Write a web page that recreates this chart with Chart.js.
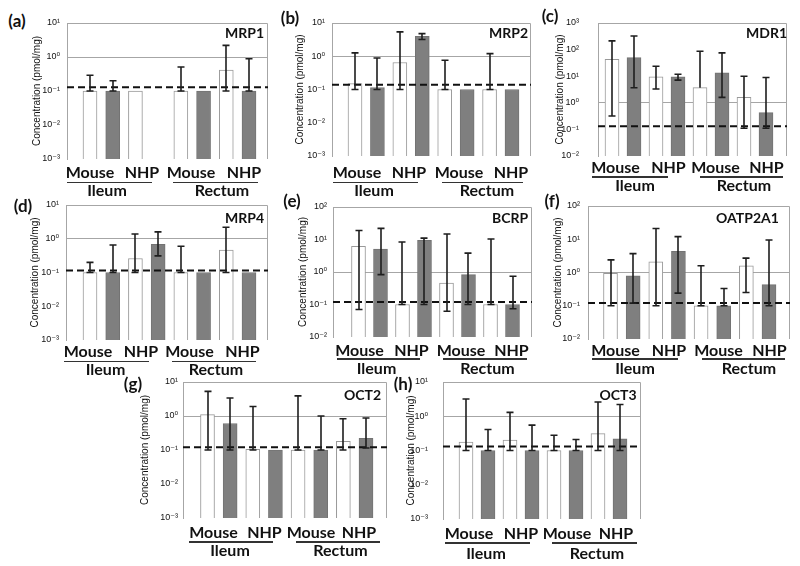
<!DOCTYPE html>
<html>
<head>
<meta charset="utf-8">
<script src="https://cdn.jsdelivr.net/npm/chart.js@4.4.1/dist/chart.umd.min.js"></script>
<style>
html, body { margin: 0; padding: 0; background: #fff; }
#fig { position: relative; width: 800px; height: 566px; overflow: hidden; }
#fig canvas { position: absolute; }
.t { position: absolute; transform: translate(-50%, -50%); white-space: nowrap; font-family: Lato, 'Open Sans', sans-serif; font-weight: 700; color: #111; line-height: 1; }
.lab { font-size: 16px; }
.grp { font-size: 16px; }
.name { font-size: 14px; }
.tag { font-size: 17px; }
.ul { position: absolute; height: 1.5px; background: #333; }
</style>
</head>
<body>
<div id="fig"></div>
<script>
const species = ['Mouse', 'NHP', 'Mouse', 'NHP']
const tissues = ['Ileum', 'Rectum']
const transporters = ['MRP1', 'MRP2', 'MDR1', 'MRP4', 'BCRP', 'OATP2A1', 'OCT2', 'OCT3']
const letters = ['(a)', '(b)', '(c)', '(d)', '(e)', '(f)', '(g)', '(h)']

// bar order: Mouse ileum (white, grey), NHP ileum (white, grey), Mouse rectum (white, grey), NHP rectum (white, grey)
const MRP1_mean = [0.1, 0.1, 0.1, null, 0.1, 0.1, 0.41, 0.1]
const MRP1_low  = [0.1, 0.1, null, null, 0.1, null, 0.1, 0.1]
const MRP1_high = [0.29, 0.2, null, null, 0.51, null, 2.2, 0.89]

const MRP2_mean = [0.15, 0.115, 0.65, 4.0, 0.1, 0.1, 0.1, 0.1]
const MRP2_low  = [0.1, 0.1, 0.1, 3.2, 0.1, null, 0.1, null]
const MRP2_high = [1.26, 0.89, 5.4, 4.8, 0.76, null, 1.2, null]

const MDR1_mean = [43, 50, 9.4, 9.5, 3.7, 13.3, 1.6, 0.43]
const MDR1_low  = [0.32, 3.7, 3.3, 7.1, null, 1.6, 0.11, 0.11]
const MDR1_high = [212, 325, 23.7, 11.9, 87, 75, 10, 8.9]

const MRP4_mean = [0.1, 0.1, 0.26, 0.68, 0.1, 0.1, 0.46, 0.1]
const MRP4_low  = [0.1, 0.1, 0.1, 0.31, 0.1, null, 0.1, null]
const MRP4_high = [0.2, 0.65, 1.38, 1.6, 0.6, null, 2.2, null]

const BCRP_mean = [6.2, 5.1, 0.1, 9.4, 0.46, 0.83, 0.1, 0.1]
const BCRP_low  = [0.07, 0.83, 0.1, 0.1, 0.062, 0.1, 0.1, 0.074]
const BCRP_high = [19, 22, 8.4, 11, 14.8, 3.8, 10.4, 0.74]

const OATP2A1_mean = [0.95, 0.8, 2.1, 4.3, 0.1, 0.1, 1.6, 0.43]
const OATP2A1_low  = [0.1, 0.12, 0.1, 0.24, 0.1, 0.1, 0.25, 0.1]
const OATP2A1_high = [2.4, 3.7, 21, 12, 1.6, 0.33, 2.7, 9.5]

const OCT2_mean = [1.1, 0.6, 0.105, 0.1, 0.1, 0.1, 0.18, 0.22]
const OCT2_low  = [0.1, 0.1, 0.1, null, 0.1, 0.1, 0.1, 0.115]
const OCT2_high = [5.3, 3.4, 1.9, null, 3.9, 1.0, 0.83, 0.87]

const OCT3_mean = [0.175, 0.1, 0.2, 0.1, 0.1, 0.1, 0.31, 0.22]
const OCT3_low  = [0.1, 0.1, 0.1, 0.1, 0.1, 0.1, 0.1, 0.1]
const OCT3_high = [3.2, 0.41, 1.3, 0.55, 0.28, 0.21, 2.6, 2.2]

// dashed limit line per panel
const lloq = [0.128, 0.14, 0.13, 0.115, 0.12, 0.12, 0.12, 0.13]
// y axis decades
const yMinExp = [-3, -3, -2, -3, -2, -2, -3, -3]
const yMaxExp = [1, 1, 3, 1, 2, 2, 1, 1]

const means = [MRP1_mean, MRP2_mean, MDR1_mean, MRP4_mean, BCRP_mean, OATP2A1_mean, OCT2_mean, OCT3_mean]
const lows = [MRP1_low, MRP2_low, MDR1_low, MRP4_low, BCRP_low, OATP2A1_low, OCT2_low, OCT3_low]
const highs = [MRP1_high, MRP2_high, MDR1_high, MRP4_high, BCRP_high, OATP2A1_high, OCT2_high, OCT3_high]

// where each panel sits on the page
const boxes = [
  {L: 67, R: 268, T: 23, B: 158.5, c1: 90, c8: 249, axT: 37, pad: 7, tag: [17, 20], name: [244.5, 33], lab: [90, 142, 191, 244], labY: 172, ul: [[67, 152], [173, 258]], ulY: 182.5, grp: [107, 222], grpY: 190},
  {L: 332, R: 531, T: 23, B: 156, c1: 355, c8: 512, axT: 300, pad: 7, tag: [290, 17], name: [508.5, 33], lab: [357, 409, 459, 511], labY: 172, ul: [[333, 418], [442, 523]], ulY: 182.5, grp: [374, 487], grpY: 190},
  {L: 598, R: 787, T: 23, B: 156, c1: 612, c8: 766, axT: 560, pad: 19, tag: [550, 15], name: [766.5, 33], lab: [615.5, 668.5, 715.5, 766.5], labY: 167, ul: [[592, 668], [700, 783]], ulY: 177, grp: [635, 744], grpY: 185},
  {L: 66, R: 268, T: 205, B: 340, c1: 90, c8: 249, axT: 35, pad: 7, tag: [23, 205], name: [244.5, 218], lab: [88, 141, 189.5, 242.5], labY: 351, ul: [[64, 149], [172, 256]], ulY: 361.5, grp: [105.5, 216], grpY: 369},
  {L: 333, R: 532, T: 207, B: 337, c1: 358.5, c8: 512.5, axT: 303, pad: 6, tag: [292, 200], name: [510, 218], lab: [359.5, 411.5, 461, 511.5], labY: 350, ul: [[337, 420], [443, 527]], ulY: 359, grp: [376.5, 487.5], grpY: 368},
  {L: 588, R: 790, T: 206, B: 339, c1: 610.5, c8: 769, axT: 558, pad: 8, tag: [552, 200], name: [747.5, 218], lab: [615.5, 669, 718.5, 769.5], labY: 350, ul: [[592, 678], [702, 785]], ulY: 359, grp: [635, 749], grpY: 368},
  {L: 183, R: 387, T: 382, B: 518, c1: 207.5, c8: 366, axT: 145, pad: 5, tag: [133, 383], name: [362.5, 395], lab: [213.5, 264.5, 311, 359], labY: 532, ul: [[189, 273], [296, 380]], ulY: 542, grp: [230, 340.5], grpY: 550},
  {L: 443, R: 641, T: 382, B: 519, c1: 466, c8: 620, axT: 411, pad: 15, tag: [403, 383], name: [618, 395], lab: [469, 521, 567, 616], labY: 533, ul: [[445, 530], [552, 637]], ulY: 543, grp: [486, 597], grpY: 553}
]

const fig = document.getElementById('fig')
const sup = {'-': '⁻', '0': '⁰', '1': '¹', '2': '²', '3': '³'}
const supText = n => String(n).split('').map(c => sup[c]).join('')

function text(cls, str, x, y) {
  const d = document.createElement('div')
  d.className = 't ' + cls
  d.textContent = str
  d.style.left = x + 'px'
  d.style.top = y + 'px'
  fig.appendChild(d)
}

function panel(i) {
  const b = boxes[i]
  const left = Math.round(b.axT - 6), top = Math.round(b.T - 8)
  const w = Math.round(b.R) + 3 - left, h = Math.round(b.B) + 8 - top
  const cv = document.createElement('canvas')
  cv.width = w; cv.height = h
  cv.style.left = left + 'px'; cv.style.top = top + 'px'
  cv.style.width = w + 'px'; cv.style.height = h + 'px'
  fig.appendChild(cv)

  const step = (b.c8 - b.c1) / 7
  const xmin = 1 - (b.c1 - b.L) / step
  const xmax = xmin + (b.R - b.L) / step
  const m = means[i], lo = lows[i], hi = highs[i]
  const white = [], grey = []
  m.forEach((v, j) => {
    if (v == null) return
    ;(j % 2 ? grey : white).push({x: j + 1, y: v})
  })
  const decades = []
  for (let e = yMinExp[i]; e <= yMaxExp[i]; e++) decades.push(Math.pow(10, e))

  const frame = {
    id: 'frame',
    beforeDatasetsDraw(c) {
      const a = c.chartArea, g = c.ctx
      g.save()
      g.strokeStyle = '#a6a6a6'
      g.lineWidth = 1
      g.beginPath()
      g.moveTo(a.left, a.top + 0.5)
      g.lineTo(a.right - 0.5, a.top + 0.5)
      g.lineTo(a.right - 0.5, a.bottom)
      g.stroke()
      g.restore()
    }
  }
  const whiskers = {
    id: 'whiskers',
    afterDatasetsDraw(c) {
      const xs = c.scales.x, ys = c.scales.y, g = c.ctx
      g.save()
      g.strokeStyle = '#1e1e1e'
      g.lineWidth = 1.6
      hi.forEach((top, j) => {
        if (top == null) return
        const x = Math.round(xs.getPixelForValue(j + 1))
        const y1 = ys.getPixelForValue(top)
        const y0 = ys.getPixelForValue(lo[j] != null ? lo[j] : m[j])
        g.beginPath()
        g.moveTo(x, y0); g.lineTo(x, y1)
        g.moveTo(x - 3.5, y1); g.lineTo(x + 3.5, y1)
        if (lo[j] != null) { g.moveTo(x - 3.5, y0); g.lineTo(x + 3.5, y0) }
        g.stroke()
      })
      g.restore()
    }
  }

  new Chart(cv, {
    type: 'bar',
    data: {
      datasets: [
        {type: 'line', data: [{x: xmin, y: lloq[i]}, {x: xmax, y: lloq[i]}], borderColor: '#111', borderWidth: 2, borderDash: [7, 4], pointRadius: 0, order: 0},
        {data: white, backgroundColor: '#ffffff', borderColor: '#999999', borderWidth: 1, barThickness: 14, grouped: false, order: 1},
        {data: grey, backgroundColor: '#7f7f7f', borderColor: '#737373', borderWidth: 1, barThickness: 14, grouped: false, order: 1}
      ]
    },
    options: {
      responsive: false,
      animation: false,
      devicePixelRatio: 1,
      layout: {padding: {top: Math.round(b.T) - top, bottom: 8, right: 3, left: 0}},
      plugins: {legend: {display: false}, tooltip: {enabled: false}},
      scales: {
        x: {type: 'linear', min: xmin, max: xmax, offset: false, grid: {offset: false}, display: false},
        y: {
          type: 'logarithmic',
          min: decades[0],
          max: decades[decades.length - 1],
          afterBuildTicks: s => { s.ticks = decades.map(v => ({value: v})) },
          afterFit: s => {
            s.width = Math.round(b.L) - left
            s.paddingTop = 0
            s.paddingBottom = 0
          },
          ticks: {
            callback: v => '10' + supText(Math.round(Math.log10(v))),
            font: {family: "'Liberation Sans', 'DejaVu Sans'", size: 9},
            color: '#111',
            padding: b.pad
          },
          grid: {
            color: c => (c.tick && Math.abs(c.tick.value - 1) < 1e-9) ? '#a6a6a6' : 'rgba(0,0,0,0)',
            drawTicks: false
          },
          border: {display: true, color: '#a6a6a6'},
          title: {display: true, text: 'Concentration (pmol/mg)', font: {family: "'Liberation Sans'", size: 10}, color: '#111', padding: 0}
        }
      }
    },
    plugins: [frame, whiskers]
  })

  text('tag', letters[i], b.tag[0], b.tag[1])
  text('name', transporters[i], b.name[0], b.name[1])
  species.forEach((s, k) => text('lab', s, b.lab[k], b.labY))
  b.ul.forEach(([a, z], k) => {
    const d = document.createElement('div')
    d.className = 'ul'
    d.style.left = a + 'px'
    d.style.width = (z - a) + 'px'
    d.style.top = (b.ulY - 0.75) + 'px'
    fig.appendChild(d)
    text('grp', tissues[k], b.grp[k], b.grpY)
  })
}

transporters.forEach((t, i) => panel(i))
</script>
</body>
</html>
